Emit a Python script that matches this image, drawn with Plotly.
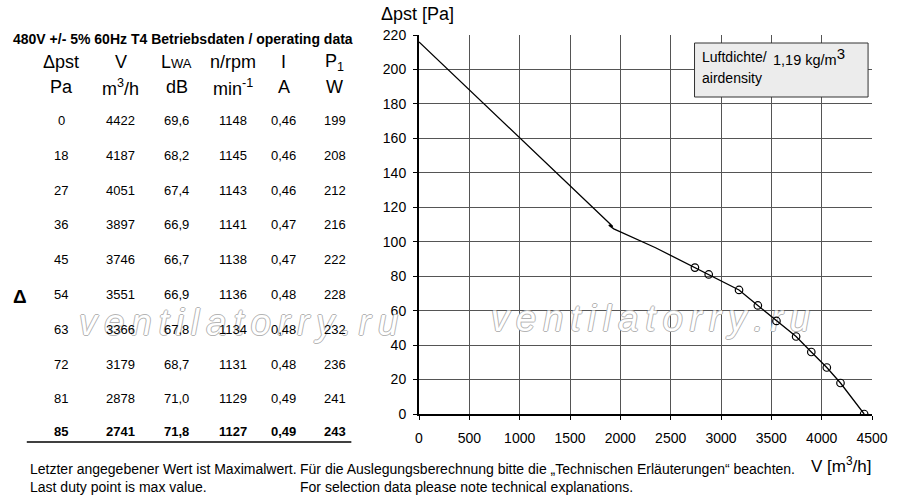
import plotly.graph_objects as go

# operating data (table + curve points)
dp = [0, 18, 27, 36, 45, 54, 63, 72, 81, 85]
flow = [4422, 4187, 4051, 3897, 3746, 3551, 3366, 3179, 2878, 2741]
lwa = [69.6, 68.2, 67.4, 66.9, 66.7, 66.9, 67.8, 68.7, 71.0, 71.8]
rpm = [1148, 1145, 1143, 1141, 1138, 1136, 1134, 1131, 1129, 1127]
current = [0.46, 0.46, 0.46, 0.47, 0.47, 0.48, 0.48, 0.48, 0.49, 0.49]
power = [199, 208, 212, 216, 222, 228, 232, 236, 241, 243]

# stall part of the characteristic
stall_v = [0, 1925, 1885, 1935]
stall_p = [216, 108.8, 109.6, 107.5]
# transition from stall part to first duty point
trans_v = [1935, 2350]
trans_p = [107.5, 96.5]

FONT = "Liberation Sans, Arial, sans-serif"
L, R, T, B = 419, 19, 35, 86
PW, PH = 900 - L - R, 500 - T - B
XMAX, YMAX = 4500, 220


def px(x):
    return (x - L) / PW


def py(y):
    return (500 - B - y) / PH


def comma(v, n):
    return f"{v:.{n}f}".replace(".", ",")


fig = go.Figure()

wm = "\u2009".join("ventilatorry.ru")
wm_font = dict(family=FONT, size=36, style="italic", color="white",
               shadow="1px 0 0 #b4b4b4, -1px 0 0 #b4b4b4, 0 1px 0 #b4b4b4, 0 -1px 0 #b4b4b4")

# watermark inside the plot sits below the curve
fig.add_trace(go.Scatter(
    x=[px(655) * XMAX], y=[py(322) * YMAX], mode="text", text=[wm],
    cliponaxis=False, hoverinfo="skip", textfont=wm_font, showlegend=False))

curve_v = stall_v + trans_v[1:] + flow[::-1]
curve_p = stall_p + trans_p[1:] + dp[::-1]
fig.add_trace(go.Scatter(x=curve_v, y=curve_p, mode="lines",
                         line=dict(color="black", width=1.3), showlegend=False))
fig.add_trace(go.Scatter(x=flow, y=dp, mode="markers",
                         marker=dict(symbol="circle-open", size=7.5, color="black",
                                     line=dict(width=1.2)),
                         showlegend=False))

# watermark over the table (first annotation, so the numbers stay on top)
ann = [dict(x=px(235), y=py(322), xref="paper", yref="paper", text=wm, showarrow=False,
            xanchor="center", yanchor="middle", font=wm_font)]


def txt(x, y, s, size=12, anchor="center", bold=False):
    ann.append(dict(x=px(x), y=py(y), xref="paper", yref="paper", text=s, showarrow=False,
                    xanchor=anchor, yanchor="middle",
                    font=dict(family=FONT, size=size, color="black",
                              weight="bold" if bold else "normal")))


# left table
txt(3, 39, "480V +/- 5% 60Hz T4 Betriebsdaten / operating data", 14, "left", True)
cols = [54, 115, 172, 229, 281, 333]
head1 = ["\u0394pst", "V", "L<span style='font-size:13px'>WA</span>", "n/rpm", "I", "P<sub>1</sub>"]
head2 = ["Pa", "m<sup>3</sup>/h", "dB", "min<sup>-1</sup>", "A", "W"]
for c, h1, h2 in zip(cols, head1, head2):
    txt(c, 62, h1, 18)
    txt(c, 87, h2, 18)

row_y = [120.5 + 34.8 * i for i in range(9)] + [431]
for i in range(len(dp)):
    vals = [str(dp[i]), str(flow[i]), comma(lwa[i], 1), str(rpm[i]),
            comma(current[i], 2), str(power[i])]
    last = i == len(dp) - 1
    for c, v in zip(cols, vals):
        txt(c, row_y[i], v, 13, bold=last)

txt(12, 296, "\u0394", 19, bold=True)

# footer notes
txt(20, 469, "Letzter angegebener Wert ist Maximalwert.", 14, "left")
txt(20, 487, "Last duty point is max value.", 14, "left")
txt(296, 469, "F\u00fcr die Auslegungsberechnung bitte die \u201eTechnischen Erl\u00e4uterungen\u201c beachten.",
    14, "left")
txt(296, 487, "For selection data please note technical explanations.", 14, "left")

# axis titles
txt(378, 14, "\u0394pst [Pa]", 18, "left")
txt(882, 465, "V [m<sup>3</sup>/h]", 17, "right")

# air density box
txt(706, 57, "Luftdichte/", 14, "left")
txt(706, 78, "airdensity", 14, "left")
txt(778, 56, "1,19 kg/m<sup><span style='font-size:15px'>3</span></sup>", 14.5, "left")

fig.update_layout(
    width=900, height=500,
    margin=dict(l=L, r=R, t=T, b=B),
    paper_bgcolor="white", plot_bgcolor="white",
    font=dict(family=FONT, size=14, color="black"),
    annotations=ann,
    shapes=[
        dict(type="rect", xref="paper", yref="paper", x0=px(700), x1=px(877),
             y0=py(97), y1=py(43), fillcolor="#ececec", line=dict(color="#333", width=1),
             layer="above"),
        dict(type="line", xref="paper", yref="paper", x0=px(19), x1=px(350),
             y0=py(442), y1=py(442), line=dict(color="black", width=1.5)),
    ],
    xaxis=dict(range=[0, XMAX], tick0=0, dtick=500, showgrid=True, gridcolor="#555",
               gridwidth=1, zeroline=False, showline=True, linecolor="black", linewidth=2,
               ticks="outside", ticklen=4, tickcolor="black", tickfont=dict(size=14),
               ticklabelstandoff=6),
    yaxis=dict(range=[0, YMAX], tick0=0, dtick=20, showgrid=True, gridcolor="#555",
               gridwidth=1, zeroline=False, showline=True, linecolor="black", linewidth=2,
               ticks="outside", ticklen=4, tickcolor="black", tickfont=dict(size=14),
               ticklabelstandoff=4),
)

# page body has an 8px default margin; drop it so the 900x500 figure fits the window
fig.write_html("out.html", config={"displayModeBar": False},
               post_script="document.body.style.margin='0';")
